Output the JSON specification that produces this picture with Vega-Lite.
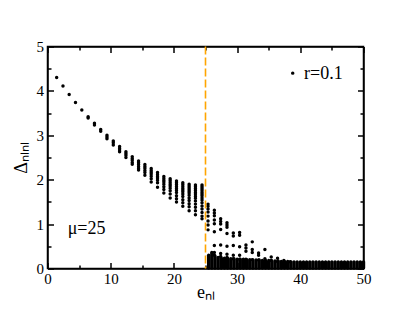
{
  "$schema": "https://vega.github.io/schema/vega-lite/v6.json",
  "autosize": "none",
  "width": 316,
  "height": 222,
  "padding": {"left": 47.5, "top": 46.5, "right": 45.5, "bottom": 47.5},
  "background": "white",
  "config": {
    "view": {"stroke": "black", "strokeWidth": 1.5},
    "axis": {
      "grid": false,
      "labelFlush": false,
      "domainColor": "black",
      "domainWidth": 1.5,
      "tickColor": "black",
      "tickWidth": 1.5,
      "labelFont": "Liberation Serif",
      "labelFontSize": 15,
      "labelColor": "black",
      "titleFont": "Liberation Serif",
      "titleFontSize": 18,
      "titleFontWeight": "normal",
      "titleColor": "black"
    }
  },
  "datasets": {
    "pts": [
      {"e":1.45,"d":4.30},{"e":2.45,"d":4.11},{"e":3.43,"d":3.92},{"e":4.43,"d":3.74},{"e":5.43,"d":3.57},
      {"e":6.43,"d":3.42},{"e":6.43,"d":3.39},
      {"e":7.43,"d":3.27},{"e":7.43,"d":3.23},
      {"e":8.42,"d":3.13},{"e":8.42,"d":3.09},
      {"e":9.41,"d":3.00},{"e":9.41,"d":2.96},{"e":9.41,"d":2.92},
      {"e":10.41,"d":2.87},{"e":10.41,"d":2.83},{"e":10.41,"d":2.78},
      {"e":11.41,"d":2.75},{"e":11.41,"d":2.71},{"e":11.41,"d":2.67},{"e":11.41,"d":2.63},
      {"e":12.41,"d":2.63},{"e":12.41,"d":2.59},{"e":12.41,"d":2.55},{"e":12.41,"d":2.50},
      {"e":13.41,"d":2.52},{"e":13.41,"d":2.48},{"e":13.41,"d":2.44},{"e":13.41,"d":2.39},{"e":13.41,"d":2.35},
      {"e":14.41,"d":2.42},{"e":14.41,"d":2.38},{"e":14.41,"d":2.34},{"e":14.41,"d":2.30},{"e":14.41,"d":2.26},{"e":14.41,"d":2.22},
      {"e":15.41,"d":2.34},{"e":15.41,"d":2.30},{"e":15.41,"d":2.26},{"e":15.41,"d":2.21},{"e":15.41,"d":2.16},{"e":15.41,"d":2.10},
      {"e":16.41,"d":2.25},{"e":16.41,"d":2.21},{"e":16.41,"d":2.17},{"e":16.41,"d":2.13},{"e":16.41,"d":2.08},{"e":16.41,"d":2.02},{"e":16.41,"d":1.95},
      {"e":17.41,"d":2.16},{"e":17.41,"d":2.12},{"e":17.41,"d":2.08},{"e":17.41,"d":2.04},{"e":17.41,"d":1.99},{"e":17.41,"d":1.93},{"e":17.41,"d":1.83},
      {"e":18.41,"d":2.07},{"e":18.41,"d":2.03},{"e":18.41,"d":1.99},{"e":18.41,"d":1.95},{"e":18.41,"d":1.90},{"e":18.41,"d":1.84},{"e":18.41,"d":1.78},{"e":18.41,"d":1.70},
      {"e":19.41,"d":2.02},{"e":19.41,"d":1.98},{"e":19.41,"d":1.94},{"e":19.41,"d":1.90},{"e":19.41,"d":1.86},{"e":19.41,"d":1.81},{"e":19.41,"d":1.75},{"e":19.41,"d":1.68},{"e":19.41,"d":1.59},
      {"e":20.41,"d":1.97},{"e":20.41,"d":1.93},{"e":20.41,"d":1.89},{"e":20.41,"d":1.85},{"e":20.41,"d":1.81},{"e":20.41,"d":1.76},{"e":20.41,"d":1.71},{"e":20.41,"d":1.64},{"e":20.41,"d":1.57},{"e":20.41,"d":1.50},
      {"e":21.41,"d":1.93},{"e":21.41,"d":1.89},{"e":21.41,"d":1.85},{"e":21.41,"d":1.81},{"e":21.41,"d":1.77},{"e":21.41,"d":1.73},{"e":21.41,"d":1.68},{"e":21.41,"d":1.62},{"e":21.41,"d":1.55},{"e":21.41,"d":1.48},{"e":21.41,"d":1.40},
      {"e":22.41,"d":1.90},{"e":22.41,"d":1.86},{"e":22.41,"d":1.82},{"e":22.41,"d":1.78},{"e":22.41,"d":1.74},{"e":22.41,"d":1.70},{"e":22.41,"d":1.65},{"e":22.41,"d":1.59},{"e":22.41,"d":1.53},{"e":22.41,"d":1.46},{"e":22.41,"d":1.39},{"e":22.41,"d":1.30},
      {"e":23.41,"d":1.88},{"e":23.41,"d":1.84},{"e":23.41,"d":1.80},{"e":23.41,"d":1.76},{"e":23.41,"d":1.72},{"e":23.41,"d":1.68},{"e":23.41,"d":1.63},{"e":23.41,"d":1.58},{"e":23.41,"d":1.52},{"e":23.41,"d":1.45},{"e":23.41,"d":1.38},{"e":23.41,"d":1.30},{"e":23.41,"d":1.21},
      {"e":24.45,"d":1.88},{"e":24.45,"d":1.84},{"e":24.45,"d":1.80},{"e":24.45,"d":1.76},{"e":24.45,"d":1.72},{"e":24.45,"d":1.68},{"e":24.45,"d":1.64},{"e":24.45,"d":1.59},{"e":24.45,"d":1.54},{"e":24.45,"d":1.48},{"e":24.45,"d":1.41},{"e":24.45,"d":1.34},{"e":24.45,"d":1.26},{"e":24.45,"d":1.18},{"e":24.45,"d":1.12},
      {"e":25.4,"d":1.45},{"e":25.4,"d":1.40},{"e":25.4,"d":1.34},{"e":25.4,"d":1.27},{"e":25.4,"d":1.18},{"e":25.4,"d":1.07},{"e":25.4,"d":0.98},{"e":25.4,"d":0.87},
      {"e":26.4,"d":1.31},{"e":26.4,"d":1.25},{"e":26.4,"d":1.19},{"e":26.4,"d":1.09},{"e":26.4,"d":1.01},{"e":26.4,"d":0.83},{"e":26.4,"d":0.52},{"e":26.4,"d":0.36},{"e":26.4,"d":0.30},
      {"e":27.4,"d":1.12},{"e":27.4,"d":1.06},{"e":27.4,"d":1.00},{"e":27.4,"d":0.88},{"e":27.4,"d":0.53},{"e":27.4,"d":0.34},{"e":27.4,"d":0.27},
      {"e":28.4,"d":1.03},{"e":28.4,"d":0.98},{"e":28.4,"d":0.93},{"e":28.4,"d":0.79},{"e":28.4,"d":0.50},{"e":28.4,"d":0.32},{"e":28.4,"d":0.25},
      {"e":29.4,"d":0.80},{"e":29.4,"d":0.73},{"e":29.4,"d":0.52},{"e":29.4,"d":0.30},{"e":29.4,"d":0.22},
      {"e":30.4,"d":0.81},{"e":30.4,"d":0.75},{"e":30.4,"d":0.49},{"e":30.4,"d":0.30},{"e":30.4,"d":0.21},
      {"e":31.4,"d":0.53},{"e":31.4,"d":0.46},{"e":31.4,"d":0.39},{"e":31.4,"d":0.21},
      {"e":32.4,"d":0.60},{"e":32.4,"d":0.43},{"e":32.4,"d":0.36},{"e":32.4,"d":0.20},
      {"e":33.4,"d":0.35},{"e":33.4,"d":0.30},{"e":33.4,"d":0.19},
      {"e":34.4,"d":0.43},{"e":34.4,"d":0.22},
      {"e":35.4,"d":0.26},{"e":35.4,"d":0.18},
      {"e":36.4,"d":0.23},{"e":36.4,"d":0.16},
      {"e":37.4,"d":0.18},{"e":38.4,"d":0.15}
    ],
    "block": [
      {"e":25.5,"lo":0.01,"hi":0.30},{"e":26.0,"lo":0.01,"hi":0.36},{"e":26.5,"lo":0.01,"hi":0.28},{"e":27.0,"lo":0.01,"hi":0.25},
      {"e":27.5,"lo":0.01,"hi":0.24},{"e":28.0,"lo":0.01,"hi":0.23},{"e":28.5,"lo":0.01,"hi":0.23},{"e":29.0,"lo":0.01,"hi":0.22},
      {"e":29.5,"lo":0.01,"hi":0.22},{"e":30.0,"lo":0.01,"hi":0.21},{"e":30.5,"lo":0.01,"hi":0.21},{"e":31.0,"lo":0.01,"hi":0.21},
      {"e":31.5,"lo":0.01,"hi":0.20},{"e":32.0,"lo":0.01,"hi":0.20},{"e":32.5,"lo":0.01,"hi":0.19},{"e":33.0,"lo":0.01,"hi":0.19},
      {"e":33.5,"lo":0.01,"hi":0.19},{"e":34.0,"lo":0.01,"hi":0.18},{"e":34.5,"lo":0.01,"hi":0.18},{"e":35.0,"lo":0.01,"hi":0.18},
      {"e":35.5,"lo":0.01,"hi":0.17},{"e":36.0,"lo":0.01,"hi":0.17},{"e":36.5,"lo":0.01,"hi":0.17},{"e":37.0,"lo":0.01,"hi":0.16},
      {"e":37.5,"lo":0.01,"hi":0.16},{"e":38.0,"lo":0.01,"hi":0.16},{"e":38.5,"lo":0.01,"hi":0.15},{"e":39.0,"lo":0.01,"hi":0.15},
      {"e":39.5,"lo":0.01,"hi":0.15},{"e":40.0,"lo":0.01,"hi":0.15},{"e":40.5,"lo":0.01,"hi":0.15},{"e":41.0,"lo":0.01,"hi":0.15},
      {"e":41.5,"lo":0.01,"hi":0.15},{"e":42.0,"lo":0.01,"hi":0.15},{"e":42.5,"lo":0.01,"hi":0.15},{"e":43.0,"lo":0.01,"hi":0.15},
      {"e":43.5,"lo":0.01,"hi":0.15},{"e":44.0,"lo":0.01,"hi":0.15},{"e":44.5,"lo":0.01,"hi":0.15},{"e":45.0,"lo":0.01,"hi":0.15},
      {"e":45.5,"lo":0.01,"hi":0.15},{"e":46.0,"lo":0.01,"hi":0.15},{"e":46.5,"lo":0.01,"hi":0.15},{"e":47.0,"lo":0.01,"hi":0.15},
      {"e":47.5,"lo":0.01,"hi":0.15},{"e":48.0,"lo":0.01,"hi":0.15},{"e":48.5,"lo":0.01,"hi":0.15},{"e":49.0,"lo":0.01,"hi":0.15},
      {"e":49.5,"lo":0.01,"hi":0.15},{"e":50.0,"lo":0.01,"hi":0.15}
    ],
    "threshold": [{"e": 25}]
  },
  "layer": [
    {
      "data": {"name": "pts"},
      "mark": {"type": "point", "filled": true, "size": 12, "color": "black", "opacity": 1, "strokeWidth": 0},
      "encoding": {
        "x": {"field": "e", "type": "quantitative", "scale": {"domain": [0, 50], "nice": false, "zero": false},
          "axis": {"orient": "bottom", "values": [0, 5, 10, 15, 20, 25, 30, 35, 40, 45, 50], "tickSize": -6,
            "tickDash": {"condition": {"test": "datum.value % 10 !== 0", "value": [3.5, 20]}, "value": []},
            "labelExpr": "datum.value % 10 === 0 ? datum.label : ''",
            "labelPadding": 9, "title": "eₙₗ", "titlePadding": -3}},
        "y": {"field": "d", "type": "quantitative", "scale": {"domain": [0, 5], "nice": false, "zero": false},
          "axis": {"orient": "left", "values": [0, 0.5, 1, 1.5, 2, 2.5, 3, 3.5, 4, 4.5, 5], "tickSize": -6,
            "tickDash": {"condition": {"test": "datum.value % 1 !== 0", "value": [3.5, 20]}, "value": []},
            "labelExpr": "datum.value % 1 === 0 ? format(datum.value, 'd') : ''",
            "labelPadding": 10, "title": "Δₙₗₙₗ", "titlePadding": 6}}
      }
    },
    {
      "data": {"name": "block"},
      "mark": {"type": "rule", "strokeWidth": 3.4, "strokeCap": "round", "color": "black"},
      "encoding": {
        "x": {"field": "e", "type": "quantitative", "scale": {"domain": [0, 50], "nice": false, "zero": false},
          "axis": {"orient": "top", "values": [0, 5, 10, 15, 20, 25, 30, 35, 40, 45, 50], "tickSize": -6,
            "tickDash": {"condition": {"test": "datum.value % 10 !== 0", "value": [3.5, 20]}, "value": []},
            "labels": false, "title": null}},
        "y": {"field": "lo", "type": "quantitative", "scale": {"domain": [0, 5], "nice": false, "zero": false},
          "axis": {"orient": "right", "values": [0, 0.5, 1, 1.5, 2, 2.5, 3, 3.5, 4, 4.5, 5], "tickSize": -6,
            "tickDash": {"condition": {"test": "datum.value % 1 !== 0", "value": [3.5, 20]}, "value": []},
            "labels": false, "title": null}},
        "y2": {"field": "hi"}
      }
    },
    {
      "data": {"name": "threshold"},
      "mark": {"type": "rule", "color": "#ffa500", "strokeWidth": 1.6, "strokeDash": [8, 3]},
      "encoding": {
        "x": {"field": "e", "type": "quantitative", "scale": {"domain": [0, 50], "nice": false, "zero": false}, "axis": null}
      }
    },
    {
      "data": {"values": [{"t": "μ=25"}]},
      "mark": {"type": "text", "font": "Liberation Serif", "fontSize": 18, "align": "left", "baseline": "middle", "color": "black"},
      "encoding": {
        "text": {"field": "t"},
        "x": {"datum": 3.2, "type": "quantitative", "scale": {"domain": [0, 50], "nice": false, "zero": false}, "axis": null},
        "y": {"datum": 0.89, "type": "quantitative", "scale": {"domain": [0, 5], "nice": false, "zero": false}, "axis": null}
      }
    },
    {
      "data": {"values": [{"t": "r=0.1"}]},
      "mark": {"type": "text", "font": "Liberation Serif", "fontSize": 18, "align": "left", "baseline": "middle", "color": "black"},
      "encoding": {
        "text": {"field": "t"},
        "x": {"datum": 40.6, "type": "quantitative", "scale": {"domain": [0, 50], "nice": false, "zero": false}, "axis": null},
        "y": {"datum": 4.38, "type": "quantitative", "scale": {"domain": [0, 5], "nice": false, "zero": false}, "axis": null}
      }
    },
    {
      "data": {"values": [{"t": "r=0.1"}]},
      "mark": {"type": "point", "filled": true, "size": 12, "color": "black", "opacity": 1, "strokeWidth": 0},
      "encoding": {
        "x": {"datum": 38.8, "type": "quantitative", "scale": {"domain": [0, 50], "nice": false, "zero": false}, "axis": null},
        "y": {"datum": 4.40, "type": "quantitative", "scale": {"domain": [0, 5], "nice": false, "zero": false}, "axis": null}
      }
    }
  ],
  "resolve": {"axis": {"x": "independent", "y": "independent"}}
}
